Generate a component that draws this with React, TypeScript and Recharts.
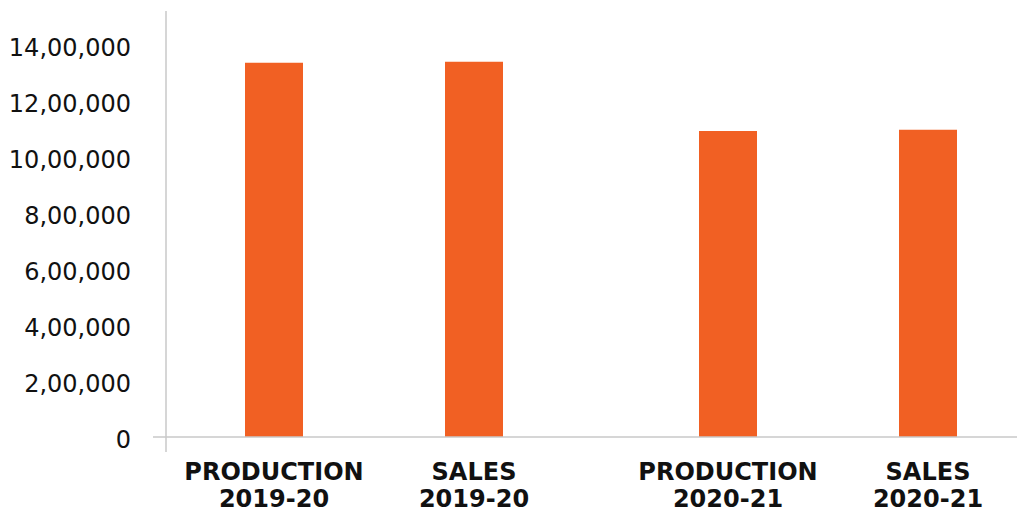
import { Bar, BarChart, LabelList, XAxis, YAxis } from 'recharts';

const years = ['2019-20', '2020-21'];
const seriesNames = ['PRODUCTION', 'SALES'];
const production = [1335000, 1092000];
const sales = [1339000, 1096000];
const yTicks = [0, 200000, 400000, 600000, 800000, 1000000, 1200000, 1400000];

const data = years.map((year, i) => ({ year, production: production[i], sales: sales[i] }));

const BAR = '#F16023';
const AXIS = '#c9c9c9';
const FONT = '"DejaVu Sans", sans-serif';

// 14,00,000 style grouping
function formatIndian(n: number) {
  const s = String(Math.round(n));
  if (s.length <= 3) return s;
  const last3 = s.slice(-3);
  const rest = s.slice(0, -3).replace(/\B(?=(\d{2})+(?!\d))/g, ',');
  return rest + ',' + last3;
}

function YTick(props: any) {
  const { x, y, payload } = props;
  return (
    <g>
      <text x={x} y={y} dy={11} textAnchor="end" fill="#111" fontSize={24} fontFamily={FONT}>
        {formatIndian(payload.value)}
      </text>
      {payload.value === 0 && (
        <g stroke={AXIS} strokeWidth={1.5}>
          <line x1={x + 22} y1={y} x2={x + 35} y2={y} />
          <line x1={x + 35} y1={y} x2={x + 35} y2={y + 15} />
        </g>
      )}
    </g>
  );
}

function BarCaption(props: any) {
  const { x, y, width, height, value, series } = props;
  const cx = x + width / 2;
  const base = y + height;
  return (
    <text textAnchor="middle" fill="#111" fontSize={24} fontWeight={700} fontFamily={FONT}>
      <tspan x={cx} y={base + 43}>{series}</tspan>
      <tspan x={cx} y={base + 70}>{value}</tspan>
    </text>
  );
}

export default function App() {
  return (
    <div style={{ position: 'fixed', left: 0, top: 0, width: 1017, height: 513, overflow: 'hidden', background: '#fff' }}>
      <BarChart
        width={1055}
        height={513}
        data={data}
        margin={{ top: 11, right: 0, left: 0, bottom: 0 }}
        barGap={142}
        barSize={58}
      >
        <XAxis
          dataKey="year"
          height={76}
          tick={false}
          tickLine={false}
          axisLine={{ stroke: AXIS, strokeWidth: 1.5 }}
          padding={{ left: -19, right: 0 }}
        />
        <YAxis
          width={166}
          domain={[0, 1520000]}
          ticks={yTicks}
          interval={0}
          tickSize={0}
          tickMargin={35}
          tickLine={false}
          axisLine={{ stroke: AXIS, strokeWidth: 1.5 }}
          tick={<YTick />}
        />
        <Bar dataKey="production" fill={BAR} isAnimationActive={false}>
          <LabelList dataKey="year" content={(p: any) => <BarCaption {...p} series={seriesNames[0]} />} />
        </Bar>
        <Bar dataKey="sales" fill={BAR} isAnimationActive={false}>
          <LabelList dataKey="year" content={(p: any) => <BarCaption {...p} series={seriesNames[1]} />} />
        </Bar>
      </BarChart>
    </div>
  );
}
